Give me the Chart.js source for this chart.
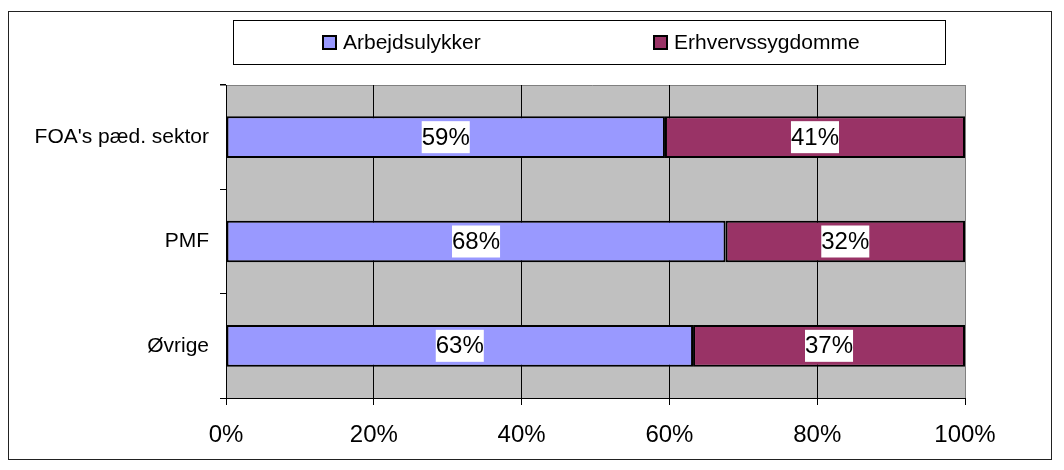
<!DOCTYPE html>
<html>
<head>
<meta charset="utf-8">
<title>Arbejdsulykker og erhvervssygdomme</title>
<script src="https://cdn.jsdelivr.net/npm/chart.js@4.4.0/dist/chart.umd.min.js"></script>
<style>
  body { margin: 0; background: #fff; }
  #myChart { display: block; }
</style>
</head>
<body>
<canvas id="myChart" width="1064" height="470"></canvas>
<script>
var categories = ["FOA's pæd. sektor", 'PMF', 'Øvrige'];
var arbejdsulykker = [59.4, 67.6, 63.2];
var erhvervssygdomme = [40.6, 32.4, 36.8];
var xTicks = [0, 20, 40, 60, 80, 100];

var fontFamily = "Arial, 'Liberation Sans', sans-serif";

// grey plot area, outer frame and the boxed legend
var framePlugin = {
    id: 'frame',
    beforeDraw: function (chart) {
        var c = chart.ctx, a = chart.chartArea;
        c.save();
        c.fillStyle = '#fff';
        c.fillRect(0, 0, chart.width, chart.height);
        c.strokeStyle = '#222';
        c.lineWidth = 1;
        c.strokeRect(8.5, 11.5, 1043, 448);
        c.fillStyle = '#C0C0C0';
        c.fillRect(a.left, a.top, a.right - a.left, a.bottom - a.top);
        c.strokeStyle = '#808080';
        c.beginPath();
        c.moveTo(a.left - 6, a.top + 0.5);
        c.lineTo(a.right, a.top + 0.5);
        c.stroke();

        // legend
        c.strokeStyle = '#000';
        c.strokeRect(233.5, 20.5, 712, 44);
        var xs = [323, 654];
        c.font = '21px ' + fontFamily;
        c.textBaseline = 'middle';
        c.textAlign = 'left';
        chart.data.datasets.forEach(function (ds, i) {
            c.fillStyle = ds.backgroundColor;
            c.fillRect(xs[i], 36, 13, 13);
            c.lineWidth = 2;
            c.strokeStyle = '#000';
            c.strokeRect(xs[i], 36, 13, 13);
            c.fillStyle = '#000';
            c.fillText(ds.label, xs[i] + 20, 43);
        });
        c.restore();
    }
};

// white boxed percentage labels in the bar segments
var labelPlugin = {
    id: 'segLabels',
    afterDatasetsDraw: function (chart) {
        var c = chart.ctx;
        c.save();
        c.font = '24px ' + fontFamily;
        c.textAlign = 'center';
        c.textBaseline = 'middle';
        chart.data.datasets.forEach(function (ds, di) {
            chart.getDatasetMeta(di).data.forEach(function (bar, i) {
                var txt = Math.round(ds.data[i]) + '%';
                var cx = (bar.x + bar.base) / 2;
                var w = c.measureText(txt).width;
                c.fillStyle = '#fff';
                c.fillRect(cx - w / 2, bar.y - 16, w, 32);
                c.fillStyle = '#000';
                c.fillText(txt, cx, bar.y + 1);
            });
        });
        c.restore();
    }
};

var ctx = document.getElementById('myChart').getContext('2d');
var myChart = new Chart(ctx, {
    type: 'bar',
    data: {
        labels: categories,
        datasets: [{
            label: 'Arbejdsulykker',
            data: arbejdsulykker,
            backgroundColor: '#9999FF',
            borderColor: '#000',
            borderWidth: 2,
            borderSkipped: false,
            categoryPercentage: 1,
            barPercentage: 0.4
        }, {
            label: 'Erhvervssygdomme',
            data: erhvervssygdomme,
            backgroundColor: '#993366',
            borderColor: '#000',
            borderWidth: 2,
            borderSkipped: false,
            categoryPercentage: 1,
            barPercentage: 0.4
        }]
    },
    options: {
        indexAxis: 'y',
        responsive: false,
        animation: false,
        layout: { padding: { top: 85, right: 99, left: 0, bottom: 0 } },
        plugins: {
            legend: { display: false },
            tooltip: { enabled: false }
        },
        scales: {
            x: {
                stacked: true,
                min: 0,
                max: 100,
                afterBuildTicks: function (axis) {
                    axis.ticks = xTicks.map(function (v) { return { value: v }; });
                },
                afterFit: function (axis) { axis.height = 72; },
                grid: {
                    color: function (c) { return c.tick && c.tick.value === 100 ? '#808080' : '#000'; },
                    lineWidth: 1,
                    tickLength: 7,
                    tickColor: '#000'
                },
                border: { color: '#000', width: 1 },
                ticks: {
                    color: '#000',
                    padding: 16,
                    font: { family: fontFamily, size: 24 },
                    maxRotation: 0,
                    callback: function (v) { return v + '%'; }
                }
            },
            y: {
                stacked: true,
                afterFit: function (axis) { axis.width = 226; },
                grid: {
                    drawOnChartArea: false,
                    offset: true,
                    tickLength: 6,
                    tickColor: '#000'
                },
                border: { color: '#000', width: 1 },
                ticks: {
                    color: '#000',
                    padding: 11,
                    font: { family: fontFamily, size: 21 }
                }
            }
        }
    },
    plugins: [framePlugin, labelPlugin]
});
</script>
</body>
</html>
